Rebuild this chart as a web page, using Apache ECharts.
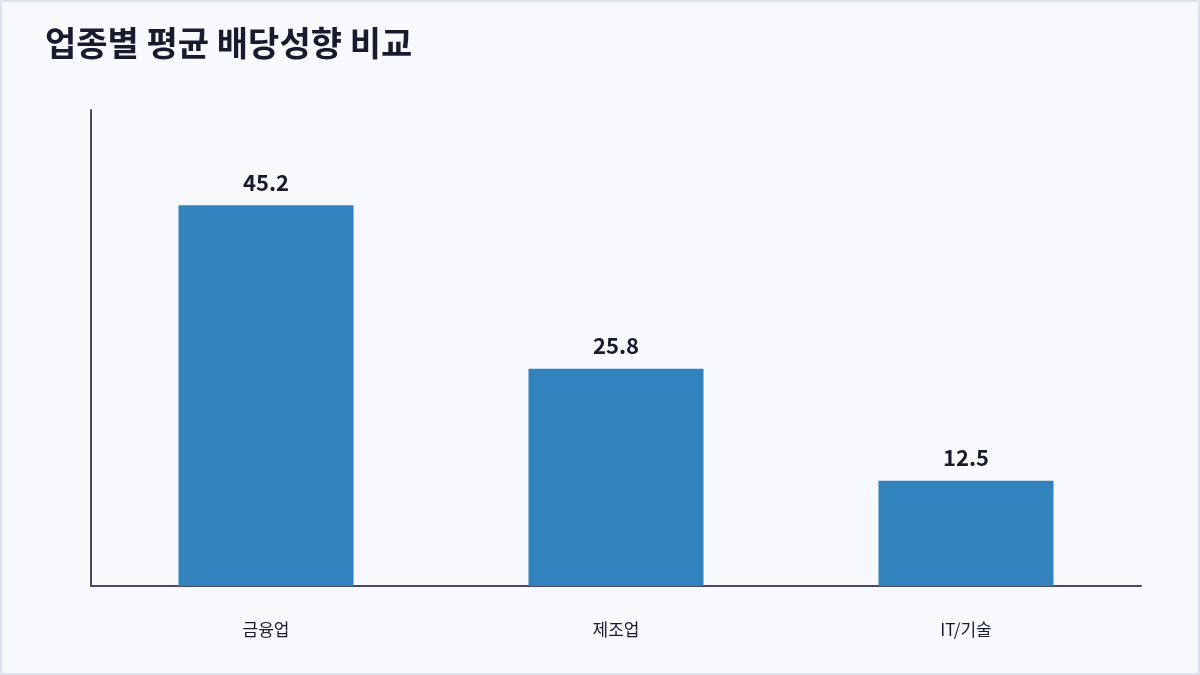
<!DOCTYPE html>
<html>
<head>
<meta charset="utf-8">
<script src="https://cdn.jsdelivr.net/npm/echarts@6/dist/echarts.min.js"></script>
<style>
html,body{margin:0;padding:0;background:#f7f9fd;}
#wrap{position:relative;width:1200px;height:675px;}
#chart{position:absolute;left:0;top:0;width:1200px;height:675px;}
#frame{position:absolute;left:0;top:0;width:1200px;height:675px;box-sizing:border-box;border:2px solid #dde3ec;pointer-events:none;}
</style>
</head>
<body>
<div id="wrap"><div id="chart"></div><div id="frame"></div></div>
<script>
const titleText = '업종별 평균 배당성향 비교';
const categories = ['금융업', '제조업', 'IT/기술'];
const payoutValues = [45.2, 25.8, 12.5];

const chart = echarts.init(document.getElementById('chart'));
chart.setOption({
  backgroundColor: '#f7f9fd',
  animation: false,
  title: {
    text: titleText,
    left: 40,
    top: 21,
    textStyle: {
      fontFamily: 'Noto Sans CJK KR',
      fontSize: 34,
      fontWeight: 'bold',
      color: '#1a1a2e'
    }
  },
  grid: { left: 91, right: 59, top: 110, bottom: 89 },
  xAxis: {
    type: 'category',
    data: categories,
    axisLine: { show: true, lineStyle: { color: '#4a4868', width: 2 } },
    axisTick: { show: false },
    axisLabel: {
      margin: 35,
      fontFamily: 'Noto Sans CJK KR',
      fontSize: 17,
      color: '#1a1a2e'
    }
  },
  yAxis: {
    type: 'value',
    min: 0,
    max: 56.5,
    splitLine: { show: false },
    axisLine: { show: true, lineStyle: { color: '#4a4868', width: 2 } },
    axisTick: { show: false },
    axisLabel: { show: false }
  },
  series: [{
    type: 'bar',
    data: payoutValues,
    barWidth: '50%',
    itemStyle: { color: '#3182bd' },
    label: {
      show: true,
      position: 'top',
      distance: 12,
      fontFamily: 'Noto Sans CJK KR',
      fontSize: 22,
      fontWeight: 'bold',
      color: '#1a1a2e'
    }
  }]
});
</script>
</body>
</html>
